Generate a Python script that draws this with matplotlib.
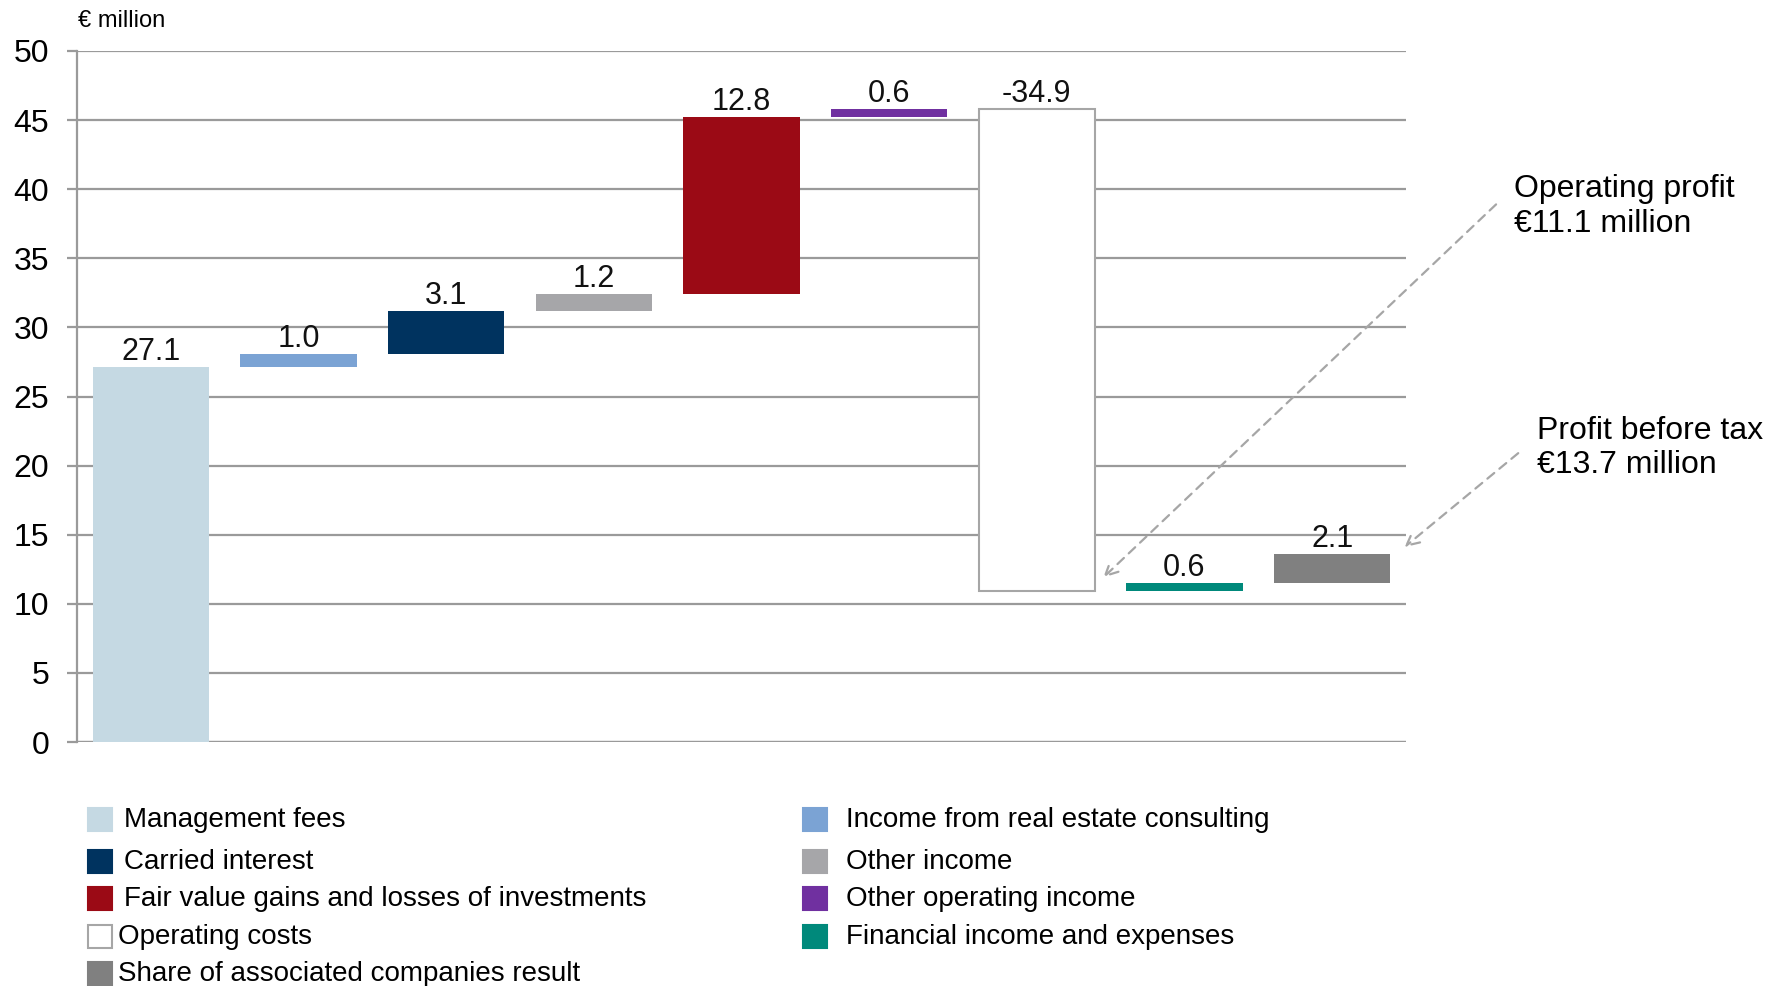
import matplotlib
matplotlib.use("Agg")
import matplotlib.pyplot as plt
from matplotlib.patches import Rectangle
from matplotlib import font_manager

names = {f.name for f in font_manager.fontManager.ttflist}
BASE = "Liberation Sans" if "Liberation Sans" in names else "DejaVu Sans"
plt.rcParams['font.family'] = [BASE, 'DejaVu Sans']

# ---- data ----
categories = ["Management fees", "Income from real estate consulting", "Carried interest",
              "Other income", "Fair value gains and losses of investments",
              "Other operating income", "Operating costs",
              "Financial income and expenses", "Share of associated companies result"]
values = [27.1, 1.0, 3.1, 1.2, 12.8, 0.6, -34.9, 0.6, 2.1]
labels = ["27.1", "1.0", "3.1", "1.2", "12.8", "0.6", "-34.9", "0.6", "2.1"]
colors = ["#C5D9E3", "#7BA3D4", "#00335F", "#A6A6A9", "#9B0A15",
          "#7030A0", "#FFFFFF", "#00897B", "#808080"]
yticks = [0, 5, 10, 15, 20, 25, 30, 35, 40, 45, 50]
operating_profit = 11.1
profit_before_tax = 13.7
legend_left = [0, 2, 4, 6, 8]
legend_right = [1, 3, 5, 7]

W, H = 1768, 986
fig = plt.figure(figsize=(W / 100, H / 100), dpi=100)
ax = fig.add_axes([77 / W, 1 - 742 / H, (1406 - 77) / W, (742 - 51) / H])

grid_c = "#9A9A9A"
bottoms = []
cum = 0.0
for v in values:
    bottoms.append(cum if v >= 0 else cum + v)
    cum += v
heights = [abs(v) for v in values]
xs = list(range(len(values)))
for i in xs:
    white = colors[i] == "#FFFFFF"
    ax.bar(i, heights[i], bottom=bottoms[i], width=0.79, color=colors[i],
           edgecolor="#A6A6A6" if white else colors[i],
           linewidth=1.5 if white else 0, zorder=3)
    top = bottoms[i] + heights[i]
    ax.annotate(labels[i], (i, top), xytext=(0, 0), textcoords="offset points",
                ha="center", va="bottom", fontsize=22, color="#111111", zorder=4)

ax.set_xlim(-0.5, len(values) - 0.5)
ax.set_ylim(0, 50)
ax.set_yticks(yticks)
ax.yaxis.grid(True, color=grid_c, linewidth=1.6, zorder=0)
ax.set_axisbelow(True)
ax.set_xticks([])
for s in ["top", "right", "bottom"]:
    ax.spines[s].set_visible(False)
ax.spines["left"].set_color(grid_c)
ax.spines["left"].set_linewidth(1.6)
ax.tick_params(axis="y", length=7, width=1.6, color=grid_c, labelsize=23, pad=13)
ax.axhline(0, color=grid_c, linewidth=1.6, zorder=1)

fig.text(78 / W, 1 - 21 / H, "\u20ac million", fontsize=17, va="center", ha="left")

# annotations
arrow_kw = dict(arrowstyle="->,head_length=0.9,head_width=0.45", color="#A6A6A6",
                linestyle=(0, (4, 3)), linewidth=1.6, shrinkA=0, shrinkB=0)
ax.annotate("", xy=(6.45, 11.9), xytext=(9.11, 38.9), xycoords="data",
            arrowprops=arrow_kw, annotation_clip=False)
ax.annotate("", xy=(8.49, 14.1), xytext=(9.26, 20.9), xycoords="data",
            arrowprops=arrow_kw, annotation_clip=False)
ax.text(9.23, 41.1, "Operating profit\n\u20ac%.1f million" % operating_profit,
        fontsize=23, va="top", ha="left", linespacing=1.2,
        clip_on=False, transform=ax.transData)
ax.text(9.39, 23.6, "Profit before tax\n\u20ac%.1f million" % profit_before_tax,
        fontsize=23, va="top", ha="left", linespacing=1.2,
        clip_on=False, transform=ax.transData)

# legend
rows_y = [820, 862, 899, 937, 974]
def add_item(idx, sx, tx, y):
    c = colors[idx]
    ec = "#A6A6A6" if c == "#FFFFFF" else c
    fig.add_artist(Rectangle((sx / W, 1 - (y + 11) / H), 24 / W, 23 / H,
                             facecolor=c, edgecolor=ec, linewidth=1.5,
                             transform=fig.transFigure))
    fig.text(tx / W, 1 - y / H, categories[idx], fontsize=20, va="center", ha="left")

for r, idx in enumerate(legend_left):
    add_item(idx, 88, 124 if r < 3 else 118, rows_y[r])
for r, idx in enumerate(legend_right):
    add_item(idx, 803, 846, rows_y[r])

fig.savefig("out.png", dpi=100)
